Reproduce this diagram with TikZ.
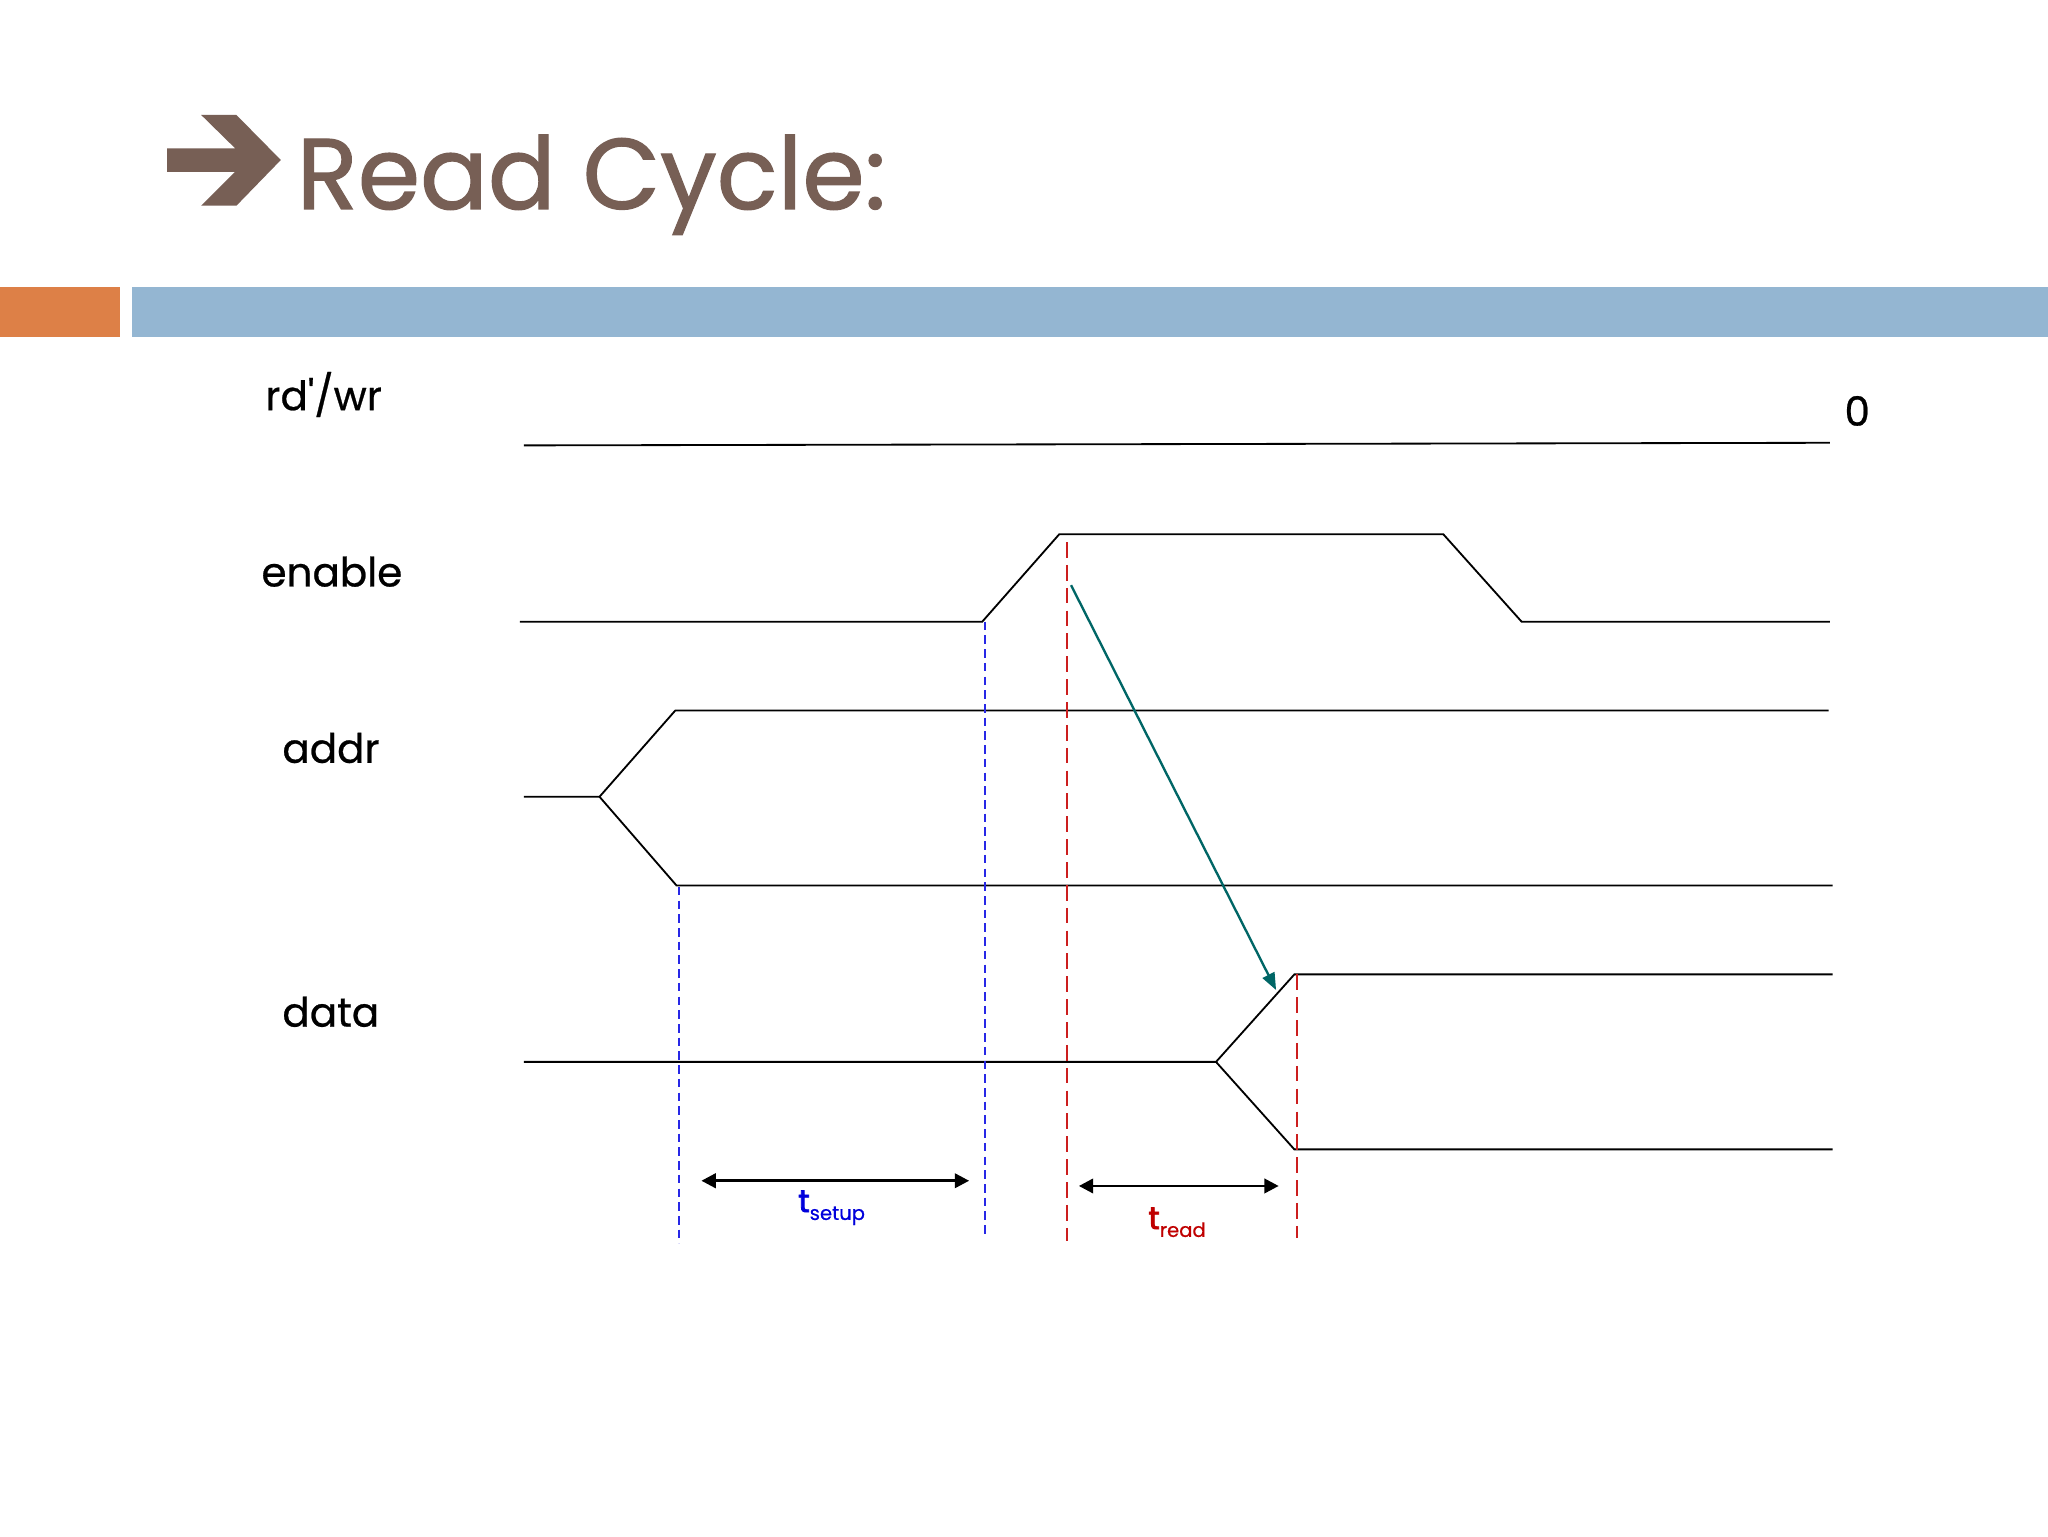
\documentclass[tikz,border=0pt]{standalone}
\usepackage{fontspec}
\usepackage{graphicx}
\setmainfont{Poppins}
\usetikzlibrary{arrows.meta}
\definecolor{titlebrown}{RGB}{119,95,85}
\definecolor{accorange}{RGB}{221,128,71}
\definecolor{accblue}{RGB}{148,182,210}
\definecolor{tealarrow}{RGB}{0,102,102}
\definecolor{dashblue}{RGB}{40,40,230}
\definecolor{dashred}{RGB}{204,30,30}
\definecolor{treadred}{RGB}{192,0,0}
\definecolor{tsetupblue}{RGB}{0,0,220}
\begin{document}
\begin{tikzpicture}[x=1pt,y=-1pt,
  sig/.style={line width=1.4pt, line join=miter, black},
  lbl/.style={inner sep=0pt, anchor=base west, font=\fontsize{31}{37}\selectfont\addfontfeatures{FakeBold=0.6}},
  tlbl/.style={inner sep=0pt, anchor=base west},
  bdash/.style={dashblue, line width=1.4pt, dash pattern=on 6.5pt off 4pt},
  rdash/.style={dashred, line width=1.4pt, dash pattern=on 12pt off 5.5pt},
  dimarrow/.style={line width=2.2pt, {Triangle[length=11pt,width=11pt]}-{Triangle[length=11pt,width=11pt]}},
]
\useasboundingbox (0,0) rectangle (1568,1176);
\fill[white] (0,0) rectangle (1568,1176);
% header bars
\fill[accorange] (0,220) rectangle (92,258);
\fill[accblue] (101,220) rectangle (1568,258);
% title arrow
\fill[titlebrown] (128,113.5) -- (180,113.5) -- (154,88) -- (181,88) -- (215,122.5) -- (181,157.5) -- (154,157.5) -- (180,131.5) -- (128,131.5) -- cycle;
\node[inner sep=0pt, anchor=base west, text=titlebrown] (title) at (227,160) {\resizebox{451pt}{!}{\addfontfeatures{FakeBold=1.2}Read Cycle:}};
% signal labels
\node[lbl] (rdwr) at (203,314) {rd\textquotesingle/wr};
\node[lbl] (enable) at (200,449) {enable};
\node[lbl] (addr) at (216,584) {addr};
\node[lbl] (data) at (216,786) {data};
\node[lbl] (zero) at (1412,326) {0};
% waveforms
\draw[sig] (401,341) -- (1401,339);
\draw[sig] (398,476) -- (752,476) -- (811,409) -- (1105,409) -- (1165,476) -- (1401,476);
\draw[sig] (401,610) -- (459,610) -- (517,544) -- (1400,544);
\draw[sig] (459,610) -- (518,678) -- (1403,678);
\draw[sig] (401,813) -- (931,813) -- (991,746) -- (1403,746);
\draw[sig] (931,813) -- (991,880) -- (1403,880);
% dashed markers
\draw[bdash] (520,679) -- (520,952);
\draw[bdash] (754,476) -- (754,947);
\draw[rdash] (817,415) -- (817,950);
\draw[rdash] (993,746) -- (993,948);
% causal arrow
\coordinate (ta) at (820,448);
\coordinate (tb) at (977,758);
\draw[tealarrow, line width=1.8pt, -{Triangle[length=13pt,width=10pt]}] (ta) -- (tb);
% timing intervals
\coordinate (s1) at (537,904);
\coordinate (s2) at (742,904);
\coordinate (r1) at (826,908);
\coordinate (r2) at (979,908);
\draw[dimarrow] (s1) -- (s2);
\draw[dimarrow] (r1) -- (r2);
\node[tlbl, text=tsetupblue] (tsetup) at (611,928) {\fontsize{24}{24}\selectfont\addfontfeatures{FakeBold=2.5}t\raisebox{-6pt}{\fontsize{15}{15}\selectfont\addfontfeatures{FakeBold=0.5}setup}};
\node[tlbl, text=treadred] (tread) at (879,941) {\fontsize{24}{24}\selectfont\addfontfeatures{FakeBold=2.5}t\raisebox{-6pt}{\fontsize{15}{15}\selectfont\addfontfeatures{FakeBold=0.5}read}};
\end{tikzpicture}
\end{document}
